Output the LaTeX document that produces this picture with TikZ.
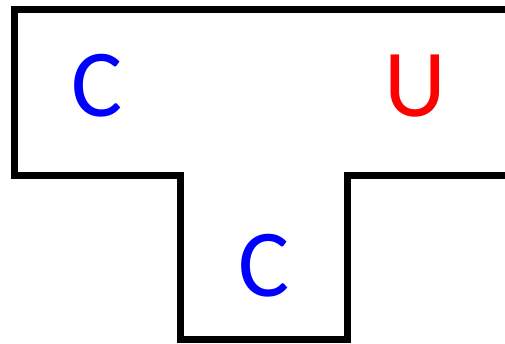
\documentclass[tikz,border=0pt]{standalone}
\usepackage{fontspec}
\newfontfamily\letterfont{Carlito}
\begin{document}
\begin{tikzpicture}[x=1pt,y=-1pt,
  outline/.style={line width=7pt, line join=miter, draw=black},
  letter/.style={font=\letterfont\fontsize{96}{96}\selectfont, inner sep=0pt, anchor=base}]
\useasboundingbox[fill=white] (0,0) rectangle (505,343);
\coordinate (tl) at (14.5,9);
\coordinate (tr) at (505,9);
\coordinate (bl) at (14.5,175.5);
\coordinate (sl) at (180,175.5);
\coordinate (sbl) at (180,339.5);
\coordinate (sbr) at (347.5,339.5);
\coordinate (sr) at (347.5,175.5);
\coordinate (br) at (505,175.5);
\draw[outline] (tr) -- (tl) -- (bl) -- (sl) -- (sbl) -- (sbr) -- (sr) -- (br);
\node[letter, text=blue] (c1) at (97.5,116) {C};
\node[letter, text=red] (u) at (415.5,116) {U};
\node[letter, text=blue] (c2) at (264.5,296) {C};
\end{tikzpicture}
\end{document}
